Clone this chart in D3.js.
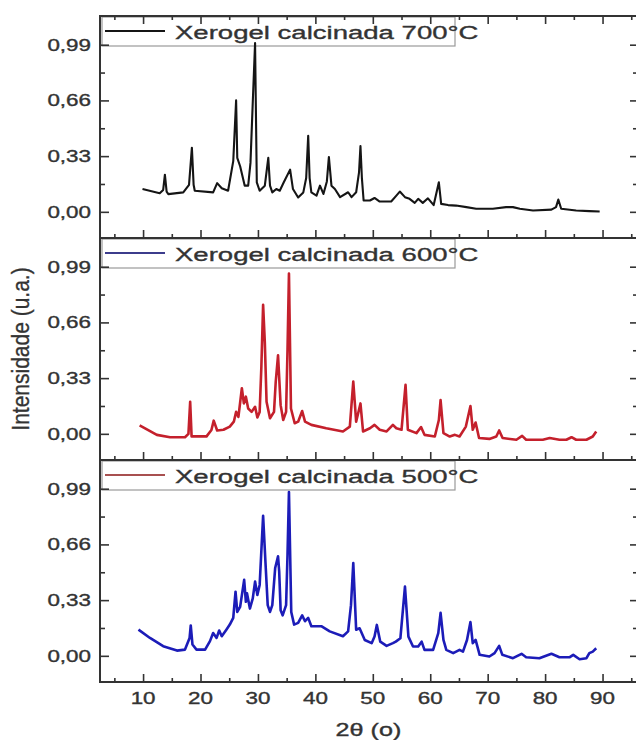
<!DOCTYPE html>
<html><head><meta charset="utf-8">
<script src="https://cdn.jsdelivr.net/npm/d3@7"></script>
<style>html,body{margin:0;padding:0;background:#fff;}svg{display:block;}</style>
</head><body>
<svg id="c" width="636" height="740"></svg>
<script>
// ---- data (2θ, normalized intensity) ----
const s700 = [[9.9,0.135],[12.9,0.11],[13.5,0.13],[13.8,0.22],[14.1,0.12],[14.4,0.105],[17.0,0.115],[18.0,0.16],[18.5,0.38],[18.8,0.16],[19.0,0.125],[22.2,0.115],[22.9,0.17],[23.7,0.14],[24.8,0.125],[25.7,0.30],[26.2,0.66],[26.4,0.32],[26.9,0.27],[27.7,0.155],[28.3,0.155],[28.7,0.29],[29.1,0.65],[29.5,1.0],[29.8,0.175],[30.3,0.125],[31.2,0.155],[31.8,0.32],[32.1,0.155],[32.5,0.115],[33.2,0.135],[33.8,0.125],[34.5,0.175],[35.6,0.25],[36.1,0.135],[37.0,0.085],[37.9,0.115],[38.4,0.2],[38.75,0.45],[39.0,0.2],[39.3,0.115],[40.2,0.096],[40.8,0.155],[41.4,0.106],[42.0,0.18],[42.35,0.325],[42.8,0.155],[43.4,0.135],[44.3,0.087],[45.7,0.116],[46.3,0.087],[47.1,0.116],[47.6,0.234],[47.85,0.39],[48.1,0.2],[48.4,0.067],[49.5,0.067],[50.3,0.082],[51.2,0.061],[53.2,0.061],[54.1,0.096],[54.7,0.12],[55.6,0.087],[56.4,0.077],[57.3,0.053],[57.9,0.077],[58.7,0.053],[59.6,0.08],[60.6,0.04],[61.5,0.175],[61.9,0.047],[63.1,0.04],[64.5,0.037],[66.3,0.028],[68.0,0.018],[70.9,0.018],[73.2,0.028],[74.4,0.028],[75.6,0.018],[77.9,0.008],[81.1,0.013],[81.9,0.028],[82.3,0.073],[82.8,0.018],[85.4,0.008],[87.7,0.004],[89.5,0.002]];
const s600 = [[9.4,0.05],[12.4,-0.006],[14.7,-0.02],[17.3,-0.02],[17.9,0.0],[18.2,0.19],[18.45,-0.015],[21.05,-0.015],[21.9,0.023],[22.3,0.078],[22.9,0.02],[24.0,0.024],[25.1,0.043],[25.8,0.072],[26.2,0.13],[26.6,0.10],[27.2,0.27],[27.55,0.18],[27.9,0.22],[28.3,0.15],[28.9,0.13],[29.5,0.16],[29.9,0.097],[30.3,0.13],[30.6,0.4],[30.9,0.765],[31.2,0.54],[31.5,0.19],[32.1,0.092],[32.8,0.13],[33.1,0.31],[33.5,0.465],[33.95,0.17],[34.4,0.082],[34.9,0.13],[35.15,0.5],[35.4,0.95],[35.75,0.15],[36.4,0.063],[37.0,0.072],[37.7,0.135],[38.2,0.072],[39.3,0.053],[41.9,0.033],[44.8,0.014],[46.0,0.043],[46.6,0.31],[47.1,0.072],[47.85,0.18],[48.3,0.014],[49.5,0.033],[50.3,0.053],[51.2,0.024],[52.4,0.014],[53.5,0.053],[54.1,0.033],[55.0,0.024],[55.7,0.29],[56.1,0.024],[57.6,0.004],[58.4,0.04],[59.0,-0.006],[60.8,-0.016],[61.5,0.082],[61.8,0.20],[62.3,0.004],[63.4,-0.016],[64.3,-0.006],[65.1,-0.016],[66.2,0.043],[67.0,0.165],[67.4,0.024],[67.9,0.067],[68.5,-0.025],[70.3,-0.03],[71.5,-0.016],[72.0,0.02],[72.6,-0.025],[75.0,-0.035],[76.0,-0.012],[76.7,-0.035],[79.6,-0.035],[80.8,-0.025],[82.5,-0.035],[83.7,-0.035],[84.6,-0.02],[85.4,-0.035],[87.2,-0.035],[88.3,-0.016],[88.9,0.014]];
const s500 = [[9.2,0.155],[11.2,0.106],[13.5,0.057],[15.9,0.031],[17.3,0.037],[18.1,0.106],[18.3,0.18],[18.6,0.067],[19.3,0.037],[20.8,0.037],[21.65,0.087],[22.2,0.135],[22.8,0.106],[23.25,0.15],[23.7,0.116],[24.5,0.155],[25.1,0.185],[25.7,0.225],[26.1,0.38],[26.4,0.26],[26.9,0.29],[27.6,0.45],[27.9,0.32],[28.1,0.37],[28.6,0.28],[29.1,0.34],[29.5,0.44],[29.9,0.36],[30.3,0.42],[30.9,0.83],[31.3,0.56],[31.7,0.30],[32.1,0.26],[32.5,0.30],[33.0,0.52],[33.5,0.59],[33.7,0.50],[33.95,0.27],[34.3,0.24],[34.9,0.30],[35.15,0.6],[35.4,0.97],[35.8,0.26],[36.3,0.185],[37.0,0.195],[37.7,0.24],[38.2,0.205],[38.75,0.225],[39.3,0.175],[41.1,0.175],[42.5,0.145],[44.8,0.116],[45.7,0.145],[46.2,0.3],[46.6,0.55],[47.1,0.155],[47.7,0.163],[48.6,0.094],[49.8,0.075],[50.3,0.114],[50.7,0.183],[51.3,0.084],[52.4,0.059],[53.5,0.075],[54.0,0.084],[54.8,0.104],[55.6,0.41],[56.2,0.114],[57.0,0.055],[57.9,0.055],[58.5,0.084],[59.0,0.035],[60.5,0.035],[61.4,0.134],[61.8,0.255],[62.3,0.094],[62.8,0.035],[64.0,0.016],[65.1,0.035],[65.7,0.025],[66.4,0.094],[67.0,0.20],[67.4,0.075],[67.9,0.094],[68.6,0.006],[70.3,-0.004],[71.2,0.016],[72.0,0.059],[72.55,0.006],[74.4,-0.014],[75.9,0.012],[76.7,-0.008],[79.0,-0.014],[81.1,0.012],[82.5,-0.008],[84.3,-0.008],[84.9,0.006],[86.0,-0.02],[87.2,-0.014],[87.7,0.016],[88.3,0.025],[88.9,0.045]];

const panelSeries = [s700, s600, s500];
const legendLabels = ["Xerogel calcinada 700°C", "Xerogel calcinada 600°C", "Xerogel calcinada 500°C"];
const lineColors = ["#151515", "#c4202c", "#1c1cb8"];
const legendColors = ["#151515", "#3c3c8c", "#a85050"];
const yTicks = [0, 0.33, 0.66, 0.99];
const yTickLabels = ["0,00", "0,33", "0,66", "0,99"];
const yMinor = [0.165, 0.495, 0.825];
const xTicks = [10, 20, 30, 40, 50, 60, 70, 80, 90];
const xMinor = [5, 15, 25, 35, 45, 55, 65, 75, 85, 95];
const xTitle = "2θ (o)";
const yTitle = "Intensidade (u.a.)";

// ---- layout ----
const svg = d3.select("#c");
const L = 100, R = 637, T = 16, PH = 222;
const SX = 1.4; // horizontal text stretch as in the reference
const ink = "#333";
const font = "'Liberation Sans', Arial, sans-serif";

const x = d3.scaleLinear().domain([2.5, 96]).range([L, R]);
const yBase = d3.scaleLinear().domain([-0.155, 1.16]).range([PH, 0]);

function stext(g, px, py, str, size, anchor, sx) {
  return g.append("text")
    .attr("transform", `translate(${px},${py}) scale(${sx || SX},1)`)
    .attr("text-anchor", anchor)
    .style("font-family", font)
    .style("font-size", size + "px")
    .attr("fill", ink).attr("stroke", ink).attr("stroke-width", 0.35)
    .text(str);
}

panelSeries.forEach((data, i) => {
  const top = T + i * PH;
  const g = svg.append("g").attr("transform", `translate(0,${top})`);
  const y = yBase;

  // legend (behind data)
  g.append("rect").attr("x", 102).attr("y", 1).attr("width", 353).attr("height", 29)
    .attr("fill", "#fff").attr("stroke", "#9a9a9a").attr("stroke-width", 1.2);
  g.append("line").attr("x1", 105).attr("x2", 165).attr("y1", 15).attr("y2", 15)
    .attr("stroke", legendColors[i]).attr("stroke-width", 1.8);
  stext(g, 175, 23, legendLabels[i], 19, "start", 1.45);

  // data line
  const line = d3.line().x(d => x(d[0])).y(d => y(d[1]));
  g.append("path").datum(data).attr("d", line)
    .attr("fill", "none").attr("stroke", lineColors[i])
    .attr("stroke-width", i === 0 ? 2.1 : 2.6).attr("stroke-linejoin", "round");

  // axes with inward ticks
  const axB = d3.axisBottom(x).tickValues(xTicks).tickSize(-8).tickFormat("");
  const axBm = d3.axisBottom(x).tickValues(xMinor).tickSize(-4).tickFormat("");
  const axL = d3.axisLeft(y).tickValues(yTicks).tickSize(-9).tickFormat("");
  const axLm = d3.axisLeft(y).tickValues(yMinor).tickSize(-5).tickFormat("");
  const axR = d3.axisRight(y).tickValues(yTicks).tickSize(-7).tickFormat("");
  const axRm = d3.axisRight(y).tickValues(yMinor).tickSize(-4).tickFormat("");
  const add = (ax, tr) => {
    const a = g.append("g").attr("transform", tr).call(ax);
    a.select(".domain").remove();
    a.selectAll("line").attr("stroke", ink).attr("stroke-width", 1.6);
  };
  add(axB, `translate(0,${PH})`);
  add(axBm, `translate(0,${PH})`);
  add(axL, `translate(${L},0)`);
  add(axLm, `translate(${L},0)`);
  add(axR, `translate(${R},0)`);
  add(axRm, `translate(${R},0)`);
  if (i === 0) {
    add(d3.axisTop(x).tickValues(xTicks).tickSize(-8).tickFormat(""), `translate(0,0)`);
    add(d3.axisTop(x).tickValues(xMinor).tickSize(-4).tickFormat(""), `translate(0,0)`);
  }

  // frame
  g.append("rect").attr("x", L).attr("y", 0).attr("width", R - L).attr("height", PH)
    .attr("fill", "none").attr("stroke", ink).attr("stroke-width", 2);

  // y tick labels
  yTicks.forEach((v, k) => stext(g, 91, y(v) + 6, yTickLabels[k], 16, "end"));

  // x tick labels on bottom panel
  if (i === panelSeries.length - 1) {
    xTicks.forEach(v => stext(g, x(v), PH + 22, String(v), 16, "middle"));
  }
});

// axis titles
stext(svg, (L + R) / 2, 736, xTitle, 18, "middle");
svg.append("text")
  .attr("transform", `translate(29,${T + 1.5 * PH}) scale(1.15,1) rotate(-90)`)
  .attr("text-anchor", "middle")
  .style("font-family", font).style("font-size", "21px")
  .attr("fill", ink).attr("stroke", ink).attr("stroke-width", 0.3).text(yTitle);
</script>
</body></html>
